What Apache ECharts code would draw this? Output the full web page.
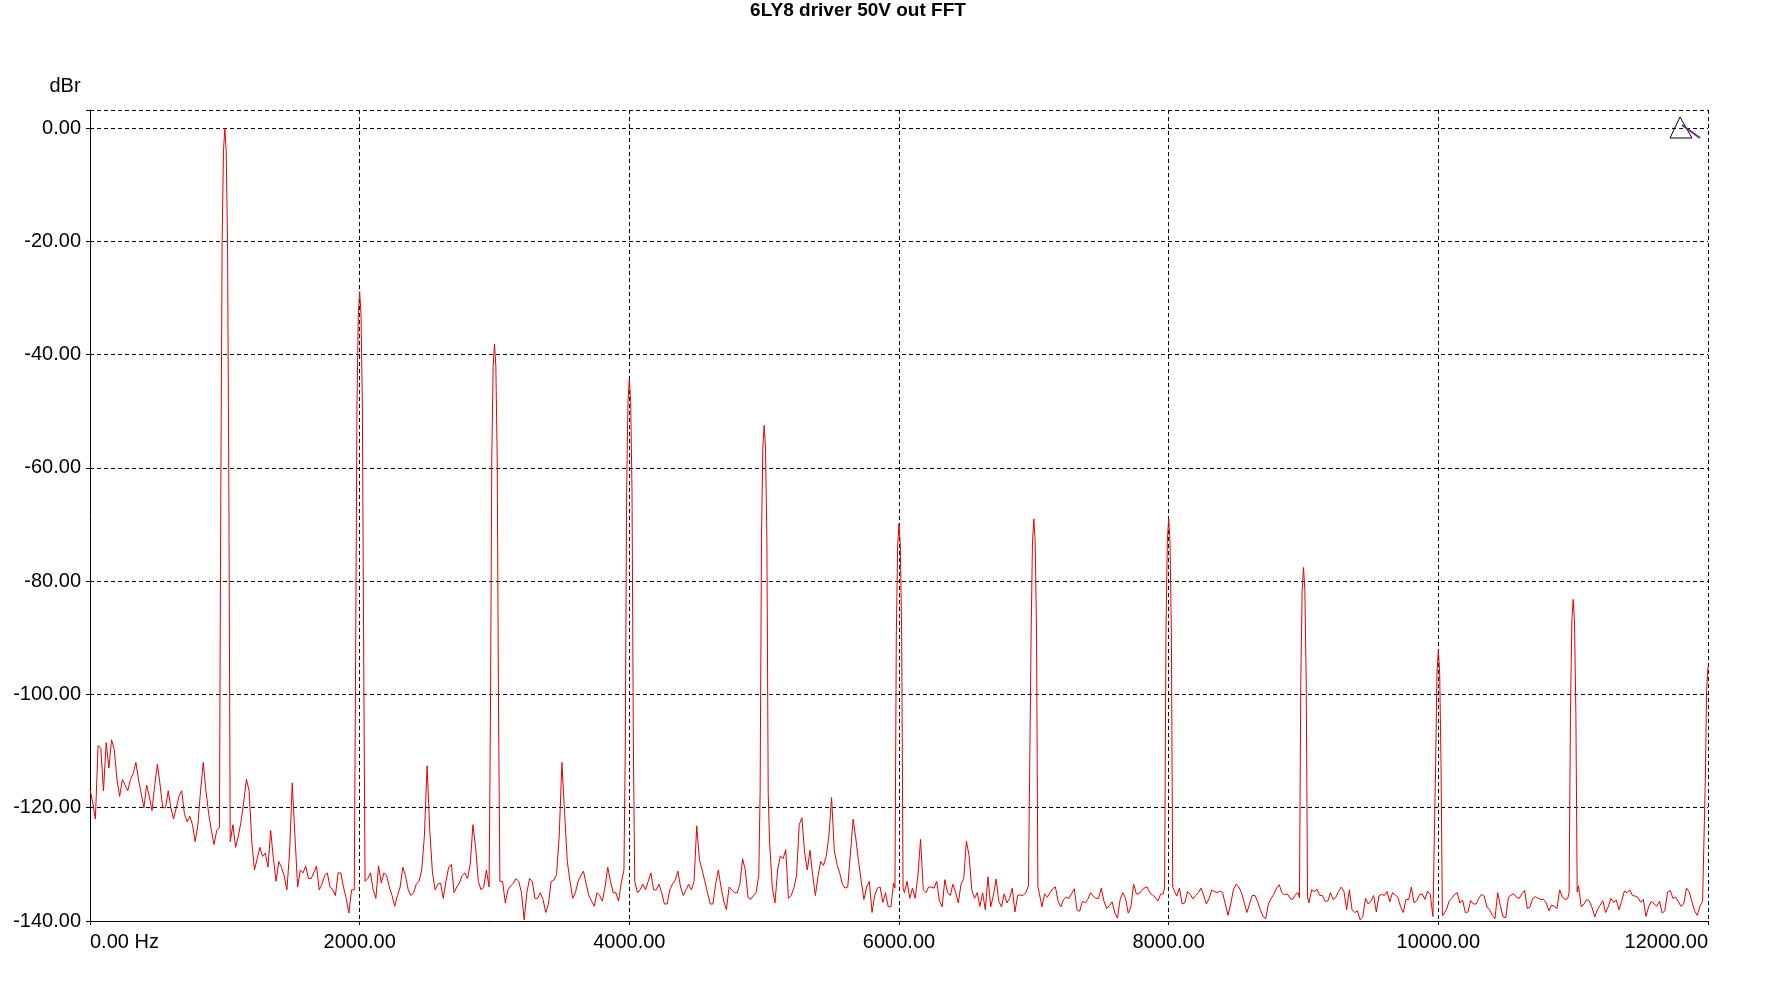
<!DOCTYPE html>
<html><head><meta charset="utf-8">
<script src="https://cdn.jsdelivr.net/npm/echarts@6/dist/echarts.min.js"></script>
<style>html,body{margin:0;padding:0;background:#fff}#c{width:1770px;height:987px}</style>
</head><body><div id="c"></div>
<script>
const titleText = '6LY8 driver 50V out FFT';
const yUnit = 'dBr';
const binStep = 20;

// noise floor, 20 Hz bins, one array per 1000 Hz block (null = covered by a harmonic peak)
const noise0 = [-116.8,-119,-122,-109,-109.5,-117,-108.5,-113,-108,-109.7,
  -115,-118,-115,-116,-117,-115,-114,-112,-115,-117.5,
  -120,-116,-118,-120.5,-116,-112.3,-116,-120,-120,-117,
  -120,-122,-120,-118,-117,-121,-122.5,-121.5,-123,-126,
  -123,-117,-112,-117,-121,-124,-126.5,-124,-123.5,null];
const noise1 = [null,null,-126,-123,-127,-125,-122.5,-119,-115,-117,
  -126,-131,-129,-127,-128.6,-128,-130.5,-124,-129,-133,
  -129.5,-130.5,-132,-134.5,-128,-115.6,-125,-134,-131,-131.5,
  -130.3,-132.5,-132.5,-131.5,-130.3,-134.5,-133.5,-132,-131.5,-134,
  -134.5,-135.5,-131.5,-131.5,-134,-136,-138.6,-134.5,-134.5,null];
const noise2 = [null,null,-133,-132.5,-131.5,-134.5,-136,-130.3,-133.3,-131.5,
  -132,-134,-135.5,-137.4,-135.5,-134,-130.5,-132,-134.5,-135.5,
  -135,-133.5,-133,-131,-125,-112.6,-124,-131.5,-134.5,-133.5,
  -133.3,-136,-133,-130.5,-130,-135,-134,-133.3,-132,-131.5,
  -132.5,-130,-123,-127,-133,-134.5,-134,-131,-134,null];
const noise3 = [null,null,-133,-133,-136.8,-134.5,-133.8,-133.3,-132.5,-133,
  -135,-139.8,-135,-132.5,-133,-136,-136,-135,-136.2,-138.5,
  -137,-133,-132.8,-131.8,-125,-112,-121,-129.5,-133,-136,
  -135,-133,-132,-131.2,-133.5,-135.5,-136.5,-137.4,-135,-135.5,
  -136.5,-134,-130.5,-133,-135,-135,-136.5,-133.3,-131,null];
const noise4 = [null,null,-133,-135,-134.5,-133.5,-134.5,-133,-131.5,-134.5,
  -134.5,-133.5,-135,-137,-137,-134.5,-133.5,-132.8,-131.2,-134,
  -135.5,-134.5,-133.5,-134.5,-133,-123.2,-129.2,-131,-133,-135,
  -137,-137,-133.5,-131,-134,-136.5,-138,-134,-134.5,-135,
  -135,-133.5,-129,-131,-135.8,-136.2,-135.5,-135,-132,null];
const noise5 = [null,null,-126,-134,-136.8,-131,-128.5,-129,-127.4,-136,
  -135.5,-134.2,-132,-123,-121.8,-128,-131,-127.5,-132,-135.5,
  -132,-129.5,-130.2,-128.6,-125,-118.2,-127.5,-130,-131.5,-133.5,
  -134.2,-134,-128,-122,-125.5,-129.5,-133,-136.2,-134,-133,
  -138.5,-135.5,-134.2,-134,-136.7,-135,-137.5,-137.5,-133.3,null];
const noise6 = [null,null,-135,-133,-136,-134.2,-136,-132,-125.6,-134.5,
  -135,-134,-134,-134.2,-133,-136.5,-137.5,-132.7,-135,-135.5,
  -133.5,-135,-136.8,-133.5,-132.5,-125.9,-128.5,-134.5,-136,-135,
  -137.4,-135,-138,-132.2,-137.5,-135.5,-132.6,-136.5,-137.5,-135.2,
  -136.8,-136,-134.2,-138.4,-135.5,-135.4,-135.5,-135,-133.8,null];
const noise7 = [null,null,-135,-137.5,-135.2,-135.8,-135,-134.3,-134,-136.5,
  -137.5,-136.2,-135.8,-136,-135.2,-134.3,-138,-138.3,-136.5,-136.8,
  -136.2,-135,-135.6,-136,-136,-134.2,-136.5,-137.8,-137.3,-136.6,
  -138.5,-139.5,-136.2,-135,-136,-138.6,-137.5,-133.5,-135.2,-135.2,
  -134.6,-134.2,-134,-135,-135.4,-135.8,-136.5,-135.3,-135.2,null];
const noise8 = [null,null,-134,-135.6,-134.2,-137,-136.8,-134.8,-135.3,-136.1,
  -135.5,-135,-134.2,-135.5,-137,-136,-134.5,-134.8,-135,-134.7,
  -135,-137,-139,-137,-134.5,-133.5,-134,-135,-136.7,-138.5,
  -137,-135.5,-135.5,-136.6,-138,-139.2,-139.6,-137,-136,-135.3,
  -134.2,-133.6,-135,-135.4,-135.2,-136,-136.2,-135.3,-135,null];
const noise9 = [null,null,-136.8,-134.5,-134.8,-134.4,-135.5,-135.5,-136.5,-136.5,
  -135,-136.2,-135.8,-134.8,-134,-134.8,-138,-134.5,-138,-138.5,
  -138.2,-139.8,-139.2,-136,-137,-136.5,-135.5,-138.4,-135.5,-135.3,
  -135.5,-134.8,-136.6,-135,-135.4,-135.8,-137.5,-138.5,-136.2,-136.2,
  -134,-136.8,-136.4,-135.4,-135.2,-136.2,-134.8,-135.3,-139.2,null];
const noise10 = [null,null,-139,-138,-136.5,-136,-135.3,-135,-136.8,-136.3,
  -138.5,-138.4,-136.4,-137,-137,-136,-135.3,-135.6,-137.5,-138,
  -139,-139.6,-135,-137.3,-139.3,-139.4,-135.8,-135.4,-135.2,-135.8,
  -136,-135.2,-134.6,-137.8,-137.5,-136,-135.7,-136,-136.2,-136.2,
  -136.8,-138.2,-137.2,-137.4,-137.8,-134.5,-135.8,-136.2,-136,null];
const noise11 = [null,null,-133.8,-137.5,-137,-136.2,-136.5,-137.6,-139.3,-138,
  -137.2,-136.4,-138.5,-137.5,-136,-136.7,-136.3,-138,-136.5,-134.7,
  -135,-134.5,-135.5,-135.6,-135.8,-136.7,-136.2,-139.2,-137.5,-136.5,
  -137,-137.4,-136.5,-138.6,-138.2,-134.9,-134.6,-136,-135.8,-136.6,
  -137.4,-137,-134.2,-134.8,-136.5,-138.2,-139,-137.4,-136.5,null];

// harmonic peaks
const harmonicFreqs  = [1000, 2000, 3000, 4000, 5000, 6000, 7000, 8000, 9000, 10000, 11000, 12000];
const harmonicLevels = [0, -28.9, -38.1, -44.3, -52.5, -69.8, -69.0, -69.0, -77.6, -92.2, -83.2, -95.1];
const peakOffsets = [-30, -20, -10, 0, 10, 20, 30];
const peakShape   = [-65, -20, -4, 0, -4, -20, -65];

// axis ticks
const xTickValues = [0, 2000, 4000, 6000, 8000, 10000, 12000];
const xTickLabels = ['0.00 Hz', '2000.00', '4000.00', '6000.00', '8000.00', '10000.00', '12000.00'];
const yTickValues = [-140, -120, -100, -80, -60, -40, -20, 0];
const yTickLabels = ['-140.00', '-120.00', '-100.00', '-80.00', '-60.00', '-40.00', '-20.00', '0.00'];

const FONT = "'Liberation Sans', Arial, sans-serif";
const noiseSegments = [noise0, noise1, noise2, noise3, noise4, noise5, noise6, noise7, noise8, noise9, noise10, noise11];
const points = [];
noiseSegments.forEach((seg, s) => seg.forEach((v, i) => {
  if (v !== null) points.push([s * 1000 + i * binStep, v]);
}));
function noiseAt(f) {
  const s = Math.floor(f / 1000);
  const seg = noiseSegments[s];
  if (!seg) return null;
  const v = seg[Math.round((f - s * 1000) / binStep)];
  return v == null ? null : v;
}
harmonicFreqs.forEach((h, k) => {
  const L = harmonicLevels[k];
  const fl = [noiseAt(h - 40), noiseAt(h + 40)].filter(v => v !== null);
  const floor = fl.reduce((a, b) => a + b, 0) / fl.length;
  peakOffsets.forEach((o, j) => {
    const f = h + o;
    if (f > 12000) return;
    points.push([f, Math.max(L + peakShape[j], floor)]);
  });
});
points.sort((a, b) => a[0] - b[0]);

const chart = echarts.init(document.getElementById('c'), null, { renderer: 'canvas' });
chart.setOption({
  animation: false,
  backgroundColor: '#ffffff',
  grid: { left: 90, right: 62, top: 110, bottom: 66 },
  xAxis: {
    type: 'value', min: 0, max: 12000, interval: 2000,
    axisLine: { show: true, onZero: false, lineStyle: { color: '#000', width: 1 } },
    axisTick: { show: true, length: 4, lineStyle: { color: '#000' } },
    axisLabel: {
      color: '#000', fontSize: 20, fontFamily: FONT, margin: 11,
      showMinLabel: true, showMaxLabel: true, alignMinLabel: 'left', alignMaxLabel: 'right',
      formatter: v => { const i = xTickValues.indexOf(v); return i >= 0 ? xTickLabels[i] : ''; }
    },
    splitLine: { show: true, lineStyle: { color: '#000', type: [4, 3], width: 1 } }
  },
  yAxis: {
    type: 'value', min: -140, max: 3.2, interval: 20,
    axisLine: { show: true, onZero: false, lineStyle: { color: '#000', width: 1 } },
    axisTick: { show: true, length: 4, lineStyle: { color: '#000' } },
    axisLabel: {
      color: '#000', fontSize: 20, fontFamily: FONT, margin: 9,
      showMinLabel: true, showMaxLabel: true,
      formatter: v => { const i = yTickValues.indexOf(v); return i >= 0 ? yTickLabels[i] : ''; }
    },
    splitLine: { show: true, lineStyle: { color: '#000', type: [4, 3], width: 1 } }
  },
  graphic: [
    { type: 'text', x: 858, y: 11, style: { text: titleText, font: "bold 19px " + FONT, fill: '#000', align: 'center', verticalAlign: 'middle' } },
    { type: 'text', x: 65, y: 86, style: { text: yUnit, font: "20px " + FONT, fill: '#000', align: 'center', verticalAlign: 'middle' } },
    { type: 'polygon', shape: { points: [[1680, 117], [1670, 138], [1692, 138]] }, style: { fill: 'none', stroke: '#000', lineWidth: 1 }, z: 100 },
    { type: 'line', shape: { x1: 1682, y1: 125, x2: 1700, y2: 138 }, style: { stroke: '#6b2a8c', lineWidth: 2 }, z: 101 }
  ],
  series: [{
    type: 'line', data: points, showSymbol: false, symbol: 'none',
    lineStyle: { color: '#e60000', width: 1 }, itemStyle: { color: '#e60000' },
    clip: true, z: 3
  }]
});
</script></body></html>
